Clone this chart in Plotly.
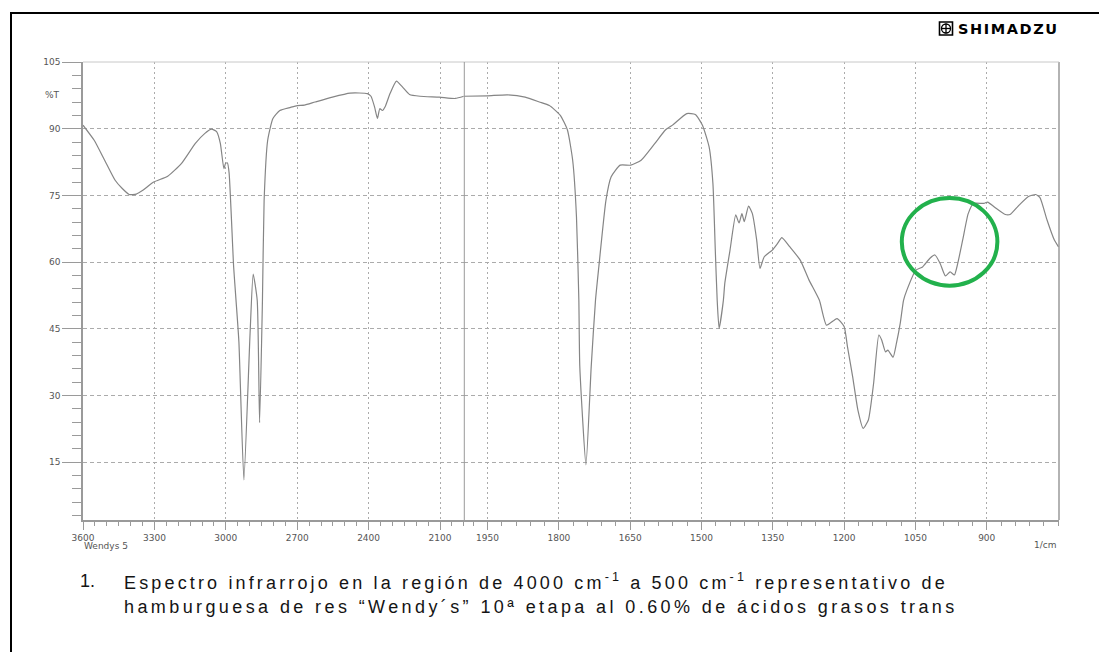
import plotly.graph_objects as go

# FTIR spectrum, %T versus wavenumber (1/cm)
wavenumber = [
    3600, 3553, 3509, 3465, 3436, 3406, 3376, 3347, 3303, 3244, 3186, 3128,
    3089, 3060, 3038, 3023, 3008, 3001, 2993, 2986, 2967, 2957, 2945, 2924,
    2898, 2885, 2868, 2858, 2846, 2839, 2824, 2802, 2773, 2728, 2700, 2670,
    2625, 2552, 2478, 2405, 2390, 2375, 2363, 2353, 2342, 2330, 2310, 2283,
    2258, 2228, 2184, 2103, 2036, 2000,
    1950, 1908, 1871, 1841, 1820, 1797, 1782, 1771, 1763, 1758, 1756, 1743,
    1732, 1723, 1716, 1701, 1690, 1671, 1649, 1627, 1598, 1576, 1561, 1531,
    1513, 1498, 1484, 1476, 1471, 1467, 1463, 1454, 1451, 1440, 1428, 1421,
    1415, 1410, 1401, 1393, 1384, 1377, 1368, 1351, 1340, 1331, 1314, 1292,
    1274, 1252, 1237, 1215, 1200, 1193, 1182, 1171, 1160, 1149, 1138, 1127,
    1121, 1113, 1108, 1097, 1090, 1082, 1075, 1068, 1049, 1035, 1020, 1009,
    998, 987, 977, 968, 961, 950, 939, 928, 906, 898, 884, 861, 851, 832,
    813, 797, 788, 773, 758, 749,
]
transmittance = [
    90.8, 87.4, 82.9, 78.4, 76.6, 75.2, 75.3, 76.2, 78.0, 79.3, 82.2, 86.7,
    88.9, 89.9, 89.3, 86.7, 81.0, 82.2, 82.3, 80.0, 58.9, 51.4, 42.1, 11.0,
    44.0, 57.3, 51.4, 23.9, 51.4, 73.9, 87.4, 92.3, 94.1, 94.8, 95.2, 95.3,
    96.0, 97.1, 98.0, 97.9, 97.3, 94.9, 92.3, 94.5, 94.1, 95.0, 97.9, 100.7,
    99.4, 97.7, 97.3, 97.1, 96.8, 97.3,
    97.4, 97.6, 97.1, 96.0, 95.2, 93.0, 89.7, 82.9, 70.2, 51.4, 36.5, 14.4,
    36.5, 51.4, 58.9, 73.9, 79.2, 81.8, 81.8, 82.9, 86.7, 89.7, 90.8, 93.4,
    93.2, 90.8, 85.9, 77.7, 62.7, 51.4, 45.1, 51.4, 55.2, 62.7, 70.6, 68.8,
    70.9, 69.1, 72.6, 70.9, 65.0, 58.6, 61.2, 62.7, 64.2, 65.5, 63.4, 60.4,
    56.0, 51.4, 45.8, 47.3, 45.5, 41.0, 34.2, 26.7, 22.6, 24.5, 32.7, 43.6,
    42.5, 39.8, 40.2, 38.6, 41.7, 46.2, 51.4, 53.7, 58.2, 58.9, 60.8, 61.6,
    59.7, 56.9, 57.8, 57.1, 59.7, 65.3, 70.9, 73.2, 73.2, 73.5, 72.4, 70.7,
    70.7, 72.8, 74.7, 75.2, 74.5, 69.4, 65.0, 63.4,
]

# Scale change of the instrument at 2000 1/cm
x_break = 2000
x_left_range = [3600, 2000]
x_right_range = [2000, 748]
x_left_ticks = [3600, 3300, 3000, 2700, 2400, 2100]
x_right_ticks = [1950, 1800, 1650, 1500, 1350, 1200, 1050, 900]
y_ticks = [15, 30, 45, 60, 75, 90, 105]
y_range = [2, 105]

caption_line1 = ("Espectro infrarrojo en la región de 4000 cm<sup>-1</sup> "
                 "a 500 cm<sup>-1</sup> representativo de")
caption_line2 = ("hamburguesa de res \u201cWendy\u00b4s\u201d 10\u00aa etapa al "
                 "0.60% de ácidos grasos trans")

left_x = [w for w in wavenumber if w >= x_break]
left_y = [t for w, t in zip(wavenumber, transmittance) if w >= x_break]
right_x = [w for w in wavenumber if w <= x_break]
right_y = [t for w, t in zip(wavenumber, transmittance) if w <= x_break]

W, H = 1099, 652
ML, MR, MT, MB = 83, 40, 62, 132
PW, PH = W - ML - MR, H - MT - MB


def paper_x(px):
    return (px - ML) / PW


def paper_y(py):
    return (H - MB - py) / PH


split = paper_x(463.8)

line_color = "#858585"
axis_color = "#9a9a9a"
grid_color = "#ababab"
tick_font = dict(family="DejaVu Sans", size=9, color="#555555")
trace_line = dict(color=line_color, width=1.2, shape="spline", smoothing=0.5)

fig = go.Figure()
fig.add_trace(go.Scatter(x=left_x, y=left_y, mode="lines", xaxis="x", yaxis="y",
                         line=trace_line, showlegend=False, hoverinfo="skip"))
fig.add_trace(go.Scatter(x=right_x, y=right_y, mode="lines", xaxis="x2", yaxis="y",
                         line=trace_line, showlegend=False, hoverinfo="skip"))

common_x = dict(
    showline=True, linecolor=axis_color, linewidth=1.5,
    ticks="outside", ticklen=8, tickcolor=axis_color, tickwidth=1,
    showgrid=True, gridcolor=grid_color, gridwidth=1, griddash="2px,3px",
    zeroline=False, tickfont=tick_font, anchor="y",
)

fig.update_layout(
    width=W, height=H,
    margin=dict(l=ML, r=MR, t=MT, b=MB, pad=0),
    paper_bgcolor="white", plot_bgcolor="white",
    xaxis=dict(domain=[0, split], range=x_left_range, tickvals=x_left_ticks,
               minor=dict(dtick=50, tick0=0, ticks="outside", ticklen=4,
                          tickcolor=axis_color, showgrid=False),
               **common_x),
    xaxis2=dict(domain=[split, 1], range=x_right_range, tickvals=x_right_ticks,
                minor=dict(dtick=30, tick0=0, ticks="outside", ticklen=4,
                           tickcolor=axis_color, showgrid=False),
                **common_x),
    yaxis=dict(range=y_range, tickvals=y_ticks, anchor="x",
               showline=True, linecolor=axis_color, linewidth=1.5,
               ticks="outside", ticklen=19, tickcolor=axis_color, tickwidth=1,
               minor=dict(dtick=3, tick0=0, ticks="outside", ticklen=9,
                          tickcolor=axis_color, showgrid=False),
               showgrid=True, gridcolor=grid_color, gridwidth=1,
               griddash="4px,3px", zeroline=False, tickfont=tick_font),
)

shapes = [
    # right and top edges of the plotting frame
    dict(type="line", xref="paper", yref="paper", x0=1, x1=1, y0=0, y1=1,
         line=dict(color=axis_color, width=1.5)),
    dict(type="line", xref="paper", yref="paper", x0=0, x1=1, y0=1, y1=1,
         line=dict(color="#c8c8c8", width=1)),
    # scale change marker
    dict(type="line", xref="x2", yref="paper", x0=x_break, x1=x_break, y0=0, y1=1,
         line=dict(color=axis_color, width=2)),
    # highlighted trans C=C region
    dict(type="circle", xref="x2", yref="y", x0=1078.7, x1=877.6, y0=54.7, y1=74.4,
         line=dict(color="#22B14C", width=4)),
    # page border
    dict(type="rect", xref="paper", yref="paper",
         x0=paper_x(11), x1=paper_x(1120), y0=paper_y(680), y1=paper_y(13),
         line=dict(color="black", width=2), fillcolor="rgba(0,0,0,0)"),
    # SHIMADZU emblem
    dict(type="rect", xref="paper", yref="paper",
         x0=paper_x(939.5), x1=paper_x(952.5), y0=paper_y(35), y1=paper_y(22),
         line=dict(color="black", width=1.6), fillcolor="white"),
    dict(type="circle", xref="paper", yref="paper",
         x0=paper_x(941.5), x1=paper_x(950.5), y0=paper_y(33), y1=paper_y(24),
         line=dict(color="black", width=1.3)),
    dict(type="line", xref="paper", yref="paper",
         x0=paper_x(946), x1=paper_x(946), y0=paper_y(33.5), y1=paper_y(23.5),
         line=dict(color="black", width=1.3)),
    dict(type="line", xref="paper", yref="paper",
         x0=paper_x(941), x1=paper_x(951), y0=paper_y(28.5), y1=paper_y(28.5),
         line=dict(color="black", width=1.3)),
]
fig.update_layout(shapes=shapes)

caption_font = dict(family="Liberation Sans, Arial", size=18, color="#141414")
annotations = [
    dict(text="%T", x=paper_x(62), y=paper_y(95.5), xanchor="right", yanchor="middle",
         font=tick_font),
    dict(text="Wendys 5", x=paper_x(82), y=paper_y(546), xanchor="left",
         yanchor="middle", font=tick_font),
    dict(text="1/cm", x=paper_x(1058), y=paper_y(545), xanchor="right",
         yanchor="middle", font=tick_font),
    dict(text='<span style="letter-spacing:1.6px">SHIMADZU</span>',
         x=paper_x(956), y=paper_y(29), xanchor="left", yanchor="middle",
         font=dict(family="DejaVu Sans", size=14.5, color="black", weight="bold")),
    dict(text="1.", x=paper_x(78), y=paper_y(581), xanchor="left", yanchor="middle",
         font=caption_font),
    dict(text='<span style="letter-spacing:3.15px">' + caption_line1 + "</span>",
         x=paper_x(122), y=paper_y(581), xanchor="left", yanchor="middle",
         font=caption_font),
    dict(text='<span style="letter-spacing:3.4px">' + caption_line2 + "</span>",
         x=paper_x(122), y=paper_y(607), xanchor="left", yanchor="middle",
         font=caption_font),
]
for a in annotations:
    a.update(xref="paper", yref="paper", showarrow=False)
fig.update_layout(annotations=annotations)

fig.write_html("out.html")
